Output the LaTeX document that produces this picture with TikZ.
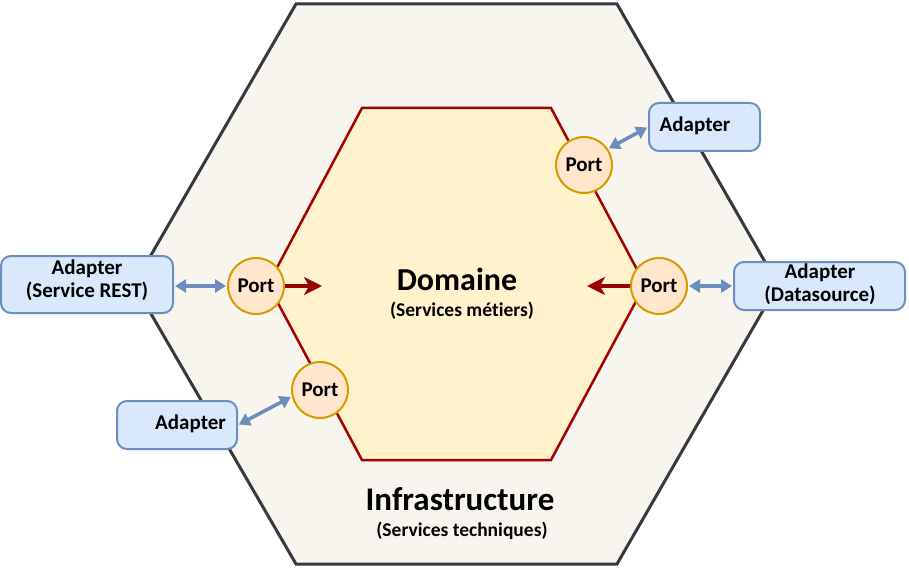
\documentclass[tikz,border=0pt]{standalone}
\usepackage{fontspec}
\setmainfont{Carlito}[Ligatures=NoCommon]
\usetikzlibrary{arrows.meta}
\definecolor{outerfill}{HTML}{F8F5EE}
\definecolor{outerline}{HTML}{36393D}
\definecolor{innerfill}{HTML}{FFF2CC}
\definecolor{innerline}{HTML}{A50000}
\definecolor{portfill}{HTML}{FFE6CC}
\definecolor{portline}{HTML}{D79B00}
\definecolor{adfill}{HTML}{DAE8FC}
\definecolor{adline}{HTML}{6C8EBF}
\definecolor{redarrow}{HTML}{990000}
\tikzset{
  port/.style={circle,draw=portline,fill=portfill,line width=2pt,minimum size=56pt,inner sep=0pt,font=\fontsize{21}{24}\selectfont\bfseries},
  adapter/.style={draw=adline,fill=adfill,line width=2pt,rounded corners=10pt,inner sep=0pt},
  adtext/.style={font=\fontsize{21}{23}\selectfont\bfseries,align=center,inner sep=0pt},
  bluearrow/.style={draw=adline,line width=3.5pt,{Triangle[length=11pt,width=13pt]}-{Triangle[length=11pt,width=13pt]},shorten <=1pt,shorten >=1pt},
  redarr/.style={draw=redarrow,line width=4pt,-{Stealth[length=18pt,width=18pt,inset=5pt]}},
}
\begin{document}
\begin{tikzpicture}[x=1pt,y=-1pt]
\useasboundingbox (0,0) rectangle (909,569);
% outer hexagon
\draw[outerline,fill=outerfill,line width=3pt,line join=miter]
  (296,4) -- (617,4) -- (778,284.5) -- (617,564) -- (296,564) -- (134,284.5) -- cycle;
% inner hexagon
\draw[innerline,fill=innerfill,line width=2.5pt,line join=miter]
  (362,108) -- (551,108) -- (645,284.5) -- (551,460) -- (362,460) -- (268,284.5) -- cycle;
% texts
\node[inner sep=0pt,font=\fontsize{32}{36}\selectfont\bfseries] (dom) at (457,279) {Domaine};
\node[inner sep=0pt,font=\fontsize{19.5}{22}\selectfont\bfseries] (domsub) at (462,311) {(Services métiers)};
\node[inner sep=0pt,font=\fontsize{33}{38}\selectfont\bfseries] (inf) at (460,499) {Infrastructure};
\node[inner sep=0pt,font=\fontsize{19.5}{22}\selectfont\bfseries] (infsub) at (462,531) {(Services techniques)};
% ports
\node[port] (pL) at (256,286) {Port};
\node[port] (pR) at (659,286) {Port};
\node[port] (pTR) at (584,165) {Port};
\node[port] (pBL) at (320,390) {Port};
% adapters
\node[adapter,minimum width=172pt,minimum height=57pt] (aL) at (87,284.5) {};
\node[adtext] at (87,280) {Adapter\\(Service REST)};
\node[adapter,minimum width=171pt,minimum height=48pt] (aR) at (819.5,286) {};
\node[adtext] at (820,284) {Adapter\\(Datasource)};
\node[adapter,minimum width=111pt,minimum height=48pt] (aTR) at (704.5,127) {};
\node[adtext] at (695,126) {Adapter};
\node[adapter,minimum width=120pt,minimum height=48pt] (aBL) at (177,425) {};
\node[adtext] at (190.5,424) {Adapter};
% red arrows
\coordinate (rL) at (322,286);
\coordinate (rR) at (587,286);
\draw[redarr] (pL.east) -- (rL);
\draw[redarr] (pR.west) -- (rR);
% blue arrows
\draw[bluearrow] (aL.east |- pL.west) -- (pL.west);
\draw[bluearrow] (pR.east) -- (aR.west);
\draw[bluearrow] (pTR.34) -- (aTR.west);
\draw[bluearrow] (aBL.east) -- (pBL.193);
\end{tikzpicture}
\end{document}
